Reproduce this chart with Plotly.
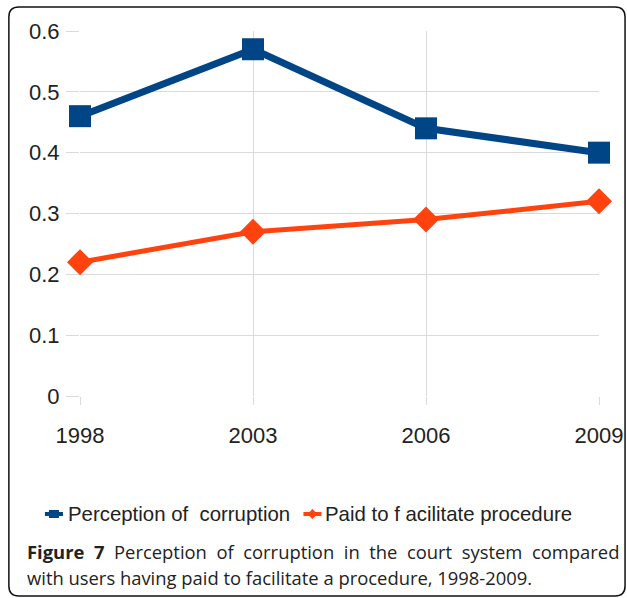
import plotly.graph_objects as go

years = ["1998", "2003", "2006", "2009"]
perception = [0.46, 0.57, 0.44, 0.40]
paid = [0.22, 0.27, 0.29, 0.32]
y_ticks = [0, 0.1, 0.2, 0.3, 0.4, 0.5, 0.6]
y_tick_text = ["0", "0.1", "0.2", "0.3", "0.4", "0.5", "0.6"]
series_names = ["Perception of  corruption", "Paid to f acilitate procedure"]
series_colors = ["#004586", "#ff420e"]
caption_line1 = ["<b>Figure</b>", "<b>7</b>", "Perception", "of", "corruption", "in",
                 "the", "court", "system", "compared"]
caption_line2 = "with users having paid to facilitate a procedure, 1998-2009."

W, H = 635, 598
L, T = 80, 31
R = 29
B = H - 396
pw, ph = 598 - L, H - T - B

def px(x):  # screen x -> paper
    return (x - L) / pw

def py(y):  # screen y -> paper
    return (H - B - y) / ph

fig = go.Figure()
fig.add_trace(go.Scatter(
    x=years, y=perception, name=series_names[0], mode="lines+markers",
    line=dict(color=series_colors[0], width=7),
    marker=dict(symbol="square", size=22, color=series_colors[0]),
    cliponaxis=False, showlegend=False))
fig.add_trace(go.Scatter(
    x=years, y=paid, name=series_names[1], mode="lines+markers",
    line=dict(color=series_colors[1], width=5),
    marker=dict(symbol="diamond", size=20, color=series_colors[1]),
    cliponaxis=False, showlegend=False))

# rounded frame
x0, x1, y0, y1, r = 9, 624, 7, 596, 10
def P(x, y):
    return f"{px(x):.5f},{py(y):.5f}"
path = (f"M {P(x0+r, y0)} L {P(x1-r, y0)} Q {P(x1, y0)} {P(x1, y0+r)} "
        f"L {P(x1, y1-r)} Q {P(x1, y1)} {P(x1-r, y1)} L {P(x0+r, y1)} "
        f"Q {P(x0, y1)} {P(x0, y1-r)} L {P(x0, y0+r)} Q {P(x0, y0)} {P(x0+r, y0)} Z")
fig.add_shape(type="path", xref="paper", yref="paper", path=path,
              line=dict(color="#111", width=1.5), layer="below")

# legend (manual)
leg_y = 514
for cx, color, sym, name, tx in [(54, series_colors[0], "square", series_names[0], 66),
                                  (312, series_colors[1], "diamond", series_names[1], 323)]:
    fig.add_shape(type="line", xref="paper", yref="paper",
                  x0=px(cx - 9), x1=px(cx + 9), y0=py(leg_y), y1=py(leg_y),
                  line=dict(color=color, width=4))
    if sym == "square":
        fig.add_shape(type="rect", xref="paper", yref="paper",
                      x0=px(cx - 5), x1=px(cx + 5), y0=py(leg_y - 4), y1=py(leg_y + 4),
                      line=dict(width=0), fillcolor=color)
    else:
        dpath = (f"M {P(cx, leg_y-5)} L {P(cx+5, leg_y)} L {P(cx, leg_y+5)} "
                 f"L {P(cx-5, leg_y)} Z")
        fig.add_shape(type="path", xref="paper", yref="paper", path=dpath,
                      line=dict(width=0), fillcolor=color)
    fig.add_annotation(xref="paper", yref="paper", x=px(tx), y=py(leg_y),
                       xanchor="left", yanchor="middle", showarrow=False,
                       text=name, font=dict(family="Liberation Sans", size=20.4, color="#222"))

cap_font = dict(family="Open Sans", size=18.4, color="#222")
fig.add_annotation(xref="paper", yref="paper", x=px(25), y=py(551),
                   xanchor="left", yanchor="middle", showarrow=False, align="left",
                   text=" \u00a0".join(caption_line1), font=cap_font)
fig.add_annotation(xref="paper", yref="paper", x=px(25), y=py(577),
                   xanchor="left", yanchor="middle", showarrow=False, align="left",
                   text=caption_line2, font=cap_font)

fig.update_layout(
    width=W, height=H, autosize=False, margin=dict(l=L, r=R, t=T, b=B),
    paper_bgcolor="white", plot_bgcolor="white",
    font=dict(family="Liberation Sans", color="#222"),
    showlegend=False,
    xaxis=dict(type="category", range=[0, 3], showgrid=True, gridcolor="#dadada",
               gridwidth=1, ticks="outside", ticklen=8, tickcolor="#dadada",
               tickfont=dict(size=22), ticklabelstandoff=12, showline=False, zeroline=False),
    yaxis=dict(range=[0, 0.6], tickvals=y_ticks, ticktext=y_tick_text,
               showgrid=True, gridcolor="#dadada", gridwidth=1, ticks="outside",
               ticklen=13, tickcolor="#dadada", tickfont=dict(size=22),
               ticklabelstandoff=2, zeroline=False, showline=False),
)

fig.write_html("out.html", config={"displayModeBar": False},
               post_script="document.body.style.margin='0';"
                           "document.documentElement.style.overflow='hidden';")
